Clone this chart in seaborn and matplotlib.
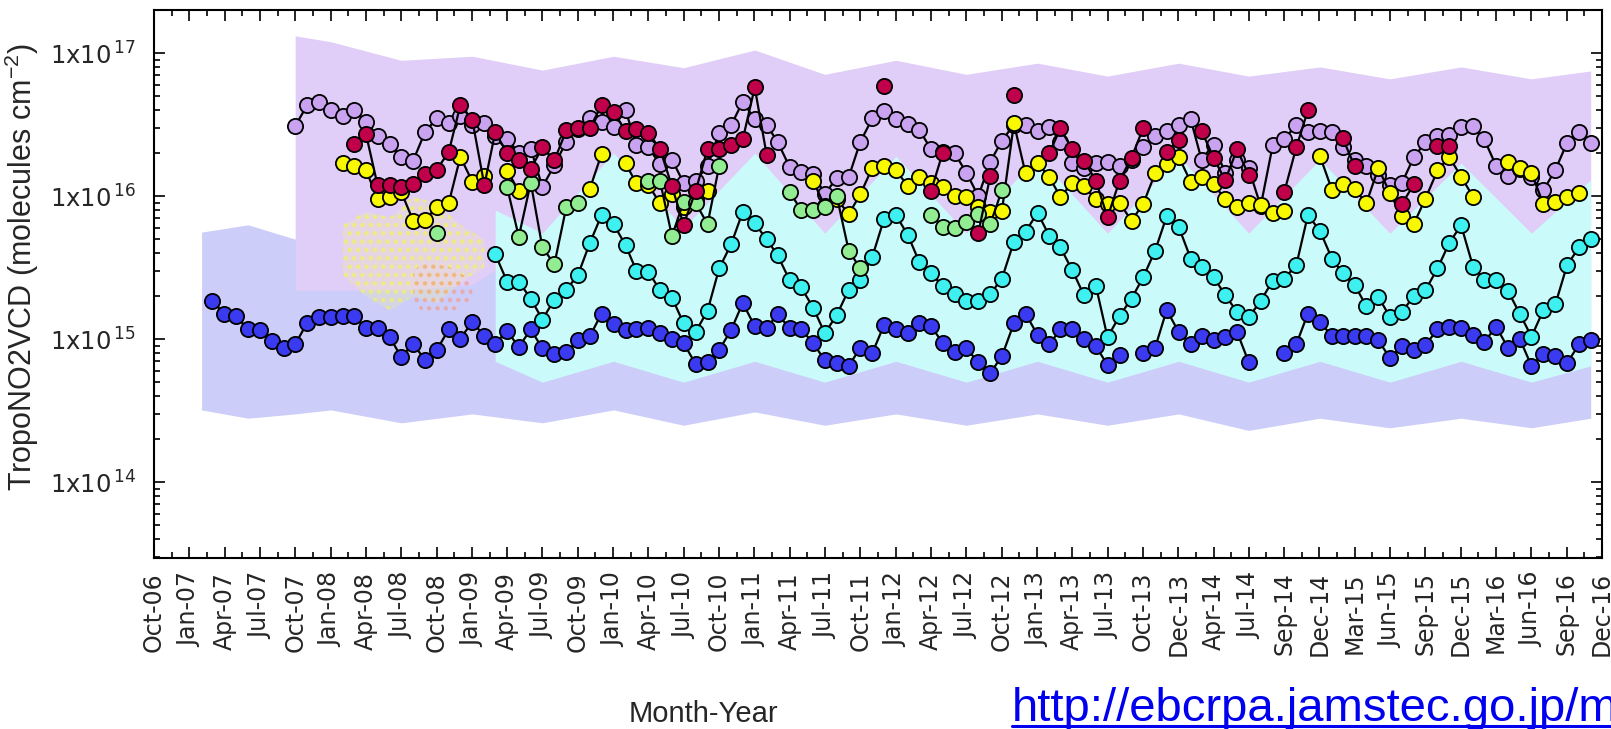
import numpy as np
import pandas as pd
import matplotlib
matplotlib.use("Agg")
import matplotlib.pyplot as plt
import matplotlib.dates as mdates
from matplotlib.lines import Line2D
from matplotlib.ticker import LogLocator, NullFormatter
import seaborn as sns

sns.set_style("ticks")
plt.rcParams["font.family"] = ["DejaVu Sans"]
plt.rcParams["mathtext.default"] = "regular"
plt.rcParams["hatch.linewidth"] = 2.0

# ---------------------------------------------------------------------------
# Data: monthly mean tropospheric NO2 VCD, units of 1e15 molecules cm^-2.
# Each series starts at month index *_FROM (0 = Oct 2006); None = no data.
# ---------------------------------------------------------------------------
FIRST_MONTH = "2006-10-01"
N_MONTHS = 123

X_TICK_LABELS = [
    "Oct-06", "Jan-07", "Apr-07", "Jul-07", "Oct-07", "Jan-08", "Apr-08",
    "Jul-08", "Oct-08", "Jan-09", "Apr-09", "Jul-09", "Oct-09", "Jan-10",
    "Apr-10", "Jul-10", "Oct-10", "Jan-11", "Apr-11", "Jul-11", "Oct-11",
    "Jan-12", "Apr-12", "Jul-12", "Oct-12", "Jan-13", "Apr-13", "Jul-13",
    "Oct-13", "Dec-13", "Apr-14", "Jul-14", "Sep-14", "Dec-14", "Mar-15",
    "Jun-15", "Sep-15", "Dec-15", "Mar-16", "Jun-16", "Sep-16", "Dec-16",
]
Y_TICKS = [1e14, 1e15, 1e16, 1e17]
Y_TICK_LABELS = [r"1x10$^{\,14}$", r"1x10$^{\,15}$", r"1x10$^{\,16}$", r"1x10$^{\,17}$"]

BLUE_FROM = 5
BLUE = [1.85, 1.50, 1.45, 1.17, 1.16, 0.97, 0.87, 0.92, 1.30, 1.43,
        1.43, 1.45, 1.45, 1.19, 1.19, 1.04, 0.75, 0.93, 0.71, 0.84,
        1.17, 1.01, 1.32, 1.05, 0.93, 1.14, 0.88, 1.17, 0.86, 0.79,
        0.81, 0.98, 1.05, 1.51, 1.27, 1.16, 1.17, 1.19, 1.10, 1.00,
        0.94, 0.67, 0.69, 0.84, 1.16, 1.79, 1.23, 1.19, 1.50, 1.19,
        1.17, 0.94, 0.71, 0.68, 0.65, 0.87, 0.80, 1.25, 1.17, 1.10,
        1.30, 1.23, 0.94, 0.81, 0.86, 0.69, 0.58, 0.76, 1.29, 1.51,
        1.07, 0.92, 1.17, 1.17, 1.01, 0.89, 0.66, 0.77, None, 0.80,
        0.87, 1.60, 1.12, 0.92, 1.05, 0.98, 1.03, 1.12, 0.69, None,
        None, 0.80, 0.92, 1.51, 1.32, 1.05, 1.05, 1.05, 1.05, 0.98,
        0.74, 0.89, 0.84, 0.91, 1.17, 1.21, 1.19, 1.07, 0.96, 1.22,
        0.87, 1.00, 0.65, 0.79, 0.76, 0.68, 0.92, 0.98]

CYAN_FROM = 29
CYAN = [3.93, 2.52, 2.52, 1.92, 1.37, 1.89, 2.22, 2.81, 4.72, 7.36,
        6.37, 4.54, 3.01, 2.96, 2.20, 1.95, 1.29, 1.12, 1.58, 3.12,
        4.61, 7.76, 6.44, 4.98, 3.86, 2.59, 2.30, 1.66, 1.10, 1.47,
        2.22, 2.59, 3.77, 6.87, 7.36, 5.33, 3.48, 2.88, 2.35, 2.08,
        1.85, 1.85, 2.07, 2.65, 4.80, 5.64, 7.64, 5.25, 4.38, 3.03,
        2.03, 2.35, 1.03, 1.45, 1.92, 2.70, 4.15, 7.24, 6.10, 3.66,
        3.21, 2.73, 2.03, 1.55, 1.42, 1.85, 2.56, 2.65, 3.29, 7.36,
        5.73, 3.66, 2.88, 2.39, 1.70, 1.98, 1.43, 1.55, 2.00, 2.20,
        3.12, 4.67, 6.27, 3.21, 2.61, 2.61, 2.18, 1.50, 1.04, 1.60,
        1.76, 3.29, 4.38, 4.98]

GREEN_FROM = 24
GREEN = [5.48, None, None, None, None, None, 11.5, 5.20, 12.4, 4.38,
         3.34, 8.41, 8.89, None, None, None, None, None, 12.8, 12.8,
         5.25, 9.12, 8.97, 6.37, 16.2, None, None, None, None, None,
         10.7, 7.98, 7.98, 8.41, 10.0, 4.15, 3.12, None, None, None,
         None, None, 7.36, 6.10, 5.94, 6.61, 7.48, 6.37, 11.0]

YELLOW_FROM = 16
YELLOW = [17.1, 16.2, 15.3, 9.48, 9.79, 10.7, 6.73, 6.79, 8.41, 8.97,
          18.8, 12.6, 13.8, None, 15.0, 10.9, None, None, None, None,
          None, 11.3, 19.7, None, 16.9, 12.3, 12.0, 8.89, 10.4, 8.41,
          9.33, 10.9, None, None, None, None, None, None, None, None,
          12.8, 8.51, 9.55, 7.48, 10.3, 15.8, 16.2, 15.2, 11.7, 13.5,
          12.4, 11.6, 10.0, 9.79, 8.41, 7.76, 7.89, 32.2, 14.4, 17.1,
          13.5, 9.89, 12.3, 11.7, 9.48, 8.79, 8.97, 6.73, 8.79, 14.4,
          16.7, 18.8, 12.6, 13.5, 12.1, 9.55, 8.36, 9.02, 8.71, 7.59,
          7.89, None, None, 19.1, 11.1, 12.1, 11.2, 8.89, 15.7, 10.5,
          7.21, 6.41, 9.62, 15.1, 18.8, 13.7, 9.89, None, None, 17.2,
          15.7, 14.5, 8.75, 9.08, 9.84, 10.5]

PURPLE_FROM = 12
PURPLE = [30.8, 43.3, 45.7, 39.9, 36.2, 39.9, 33.1, 26.3, 23.3, 18.8,
          17.7, 28.2, 34.9, 32.6, 36.3, 31.6, 32.2, 26.3, 25.1, 20.0,
          21.4, 11.6, 16.4, 24.0, 29.5, 34.9, 33.1, 30.5, 39.8, 22.8,
          21.9, 16.7, 18.0, 12.4, 12.8, 16.2, 27.7, 31.3, 45.7, 34.4,
          31.3, 24.0, 16.0, 14.8, 14.3, 10.4, 13.3, 13.6, 24.0, 34.9,
          39.5, 34.4, 31.8, 29.2, 21.2, 20.4, 19.9, 14.6, 10.0, 17.4,
          24.4, 31.6, 31.3, 28.6, 30.5, 24.0, 17.1, 15.8, 17.1, 17.4,
          16.2, 17.8, 21.9, 26.3, 28.6, 31.3, 34.4, 18.0, 22.9, 14.6,
          17.9, 15.6, 8.51, 22.6, 24.9, 31.6, 27.9, 28.6, 28.2, 21.9,
          17.8, 16.2, 14.1, 12.0, 12.3, 18.8, 23.7, 26.3, 26.9, 30.5,
          30.8, 24.9, 16.2, 13.8, 15.5, 13.5, 11.0, 15.3, 23.6, 28.2,
          23.4]

CRIMSON_FROM = 17
CRIMSON = [23.3, 27.2, 11.9, 11.9, 11.6, 12.2, 14.3, 15.3, 20.4, 43.2,
           33.9, 11.9, 27.9, 20.0, 17.8, 15.5, 21.9, 17.8, 28.8, 29.9,
           29.9, 43.3, 38.9, 28.5, 29.5, 27.7, 21.4, 11.7, 6.31, 10.8,
           21.4, 21.4, 22.9, 24.9, 57.5, 19.3, None, None, None, None,
           None, None, None, None, None, 58.7, None, None, None, 10.9,
           20.1, None, None, 5.55, 13.8, None, 50.8, None, None, 20.1,
           29.7, 21.2, 17.7, 12.8, 7.10, 12.8, 18.6, 29.7, None, 20.4,
           24.5, None, 28.6, 18.6, 12.9, 21.2, 14.0, None, None, 10.7,
           21.9, 39.8, None, None, 25.3, 16.2, None, None, None, 8.79,
           12.1, None, 22.4, 22.4]

# Spread of the individual retrievals behind each series (envelopes, 1e15 units)
LAV_CLOUD_M = [4, 8, 12, 15, 21, 27, 33, 39, 45, 51, 57, 63, 69, 75, 81, 87,
               93, 99, 105, 111, 117, 122]
LAV_CLOUD_HI = [5.6, 6.3, 5.0, 4.0, 4.0, 4.0, 4.0, 4.0, 4.0, 4.0, 4.0, 4.0,
                4.0, 4.0, 4.0, 4.0, 4.0, 4.0, 4.0, 4.0, 4.0, 4.0]
LAV_CLOUD_LO = [0.32, 0.28, 0.30, 0.32, 0.26, 0.30, 0.26, 0.32, 0.25, 0.31,
                0.25, 0.30, 0.25, 0.30, 0.25, 0.30, 0.23, 0.28, 0.24, 0.28,
                0.24, 0.28]

PUR_CLOUD_M = [12, 15, 21, 27, 33, 39, 45, 51, 57, 63, 69, 75, 81, 87, 93,
               99, 105, 111, 117, 122]
PUR_CLOUD_HI = [132, 120, 89, 95, 76, 95, 79, 105, 71, 89, 71, 85, 69, 85,
                69, 80, 66, 80, 66, 75]
PUR_CLOUD_LO = [2.2, 2.2, 2.2, 2.4, 5.0, 6.3, 5.0, 6.3, 5.0, 6.3, 5.0, 6.3,
                5.0, 6.3, 5.0, 6.3, 5.0, 6.3, 5.0, 6.3]

CYAN_CLOUD_M = [29, 33, 39, 45, 51, 57, 63, 69, 75, 81, 87, 93, 99, 105,
                111, 117, 122]
CYAN_CLOUD_HI = [8.0, 5.5, 20, 6.0, 20, 5.5, 19, 5.5, 19, 5.5, 19, 5.5, 18,
                 5.5, 17, 5.5, 13]
CYAN_CLOUD_LO = [0.70, 0.50, 0.70, 0.50, 0.70, 0.50, 0.70, 0.50, 0.70, 0.50,
                 0.70, 0.50, 0.70, 0.50, 0.70, 0.50, 0.65]

YEL_CLOUD_M = [16, 18, 20, 22, 24, 26, 28]
YEL_CLOUD_HI = [6.3, 7.9, 7.1, 10.0, 8.9, 6.3, 5.0]
YEL_CLOUD_LO = [2.8, 2.0, 1.6, 2.0, 1.8, 2.5, 3.2]

SAL_CLOUD_M = [22, 23, 25, 27]
SAL_CLOUD_HI = [3.0, 3.5, 3.2, 2.6]
SAL_CLOUD_LO = [1.8, 1.5, 1.5, 1.9]

SCALE = 1e15
months = pd.date_range(FIRST_MONTH, periods=N_MONTHS, freq="MS")


def monthly(first, values):
    """Monthly values -> frame with a segment id that breaks at missing months."""
    v = pd.Series(values, dtype="float64")
    seg = v.isna().cumsum()
    df = pd.DataFrame({"date": months[first:first + len(v)],
                       "vcd": v.values * SCALE,
                       "seg": seg.values})
    return df.dropna(subset=["vcd"])


def envelope(ax, m, lo, hi, color, z, alpha=1.0, hatch=None):
    if hatch is None:
        ax.fill_between(months[m], np.array(lo) * SCALE, np.array(hi) * SCALE,
                        color=color, lw=0, zorder=z, alpha=alpha)
    else:
        # speckled patch: sparse dots of colour over the existing envelope
        ax.fill_between(months[m], np.array(lo) * SCALE, np.array(hi) * SCALE,
                        facecolor="none", edgecolor=color, hatch=hatch,
                        lw=0, zorder=z, alpha=alpha)


W, H = 1611, 729
fig = plt.figure(figsize=(W / 100, H / 100), dpi=100)
ax_l, ax_r, ax_t, ax_b = 154, 1602, 10, 558
ax = fig.add_axes([ax_l / W, 1 - ax_b / H, (ax_r - ax_l) / W, (ax_b - ax_t) / H])
ax.set_yscale("log")

# retrieval envelopes
envelope(ax, LAV_CLOUD_M, LAV_CLOUD_LO, LAV_CLOUD_HI, "#cdcdf9", 1)
envelope(ax, PUR_CLOUD_M, PUR_CLOUD_LO, PUR_CLOUD_HI, "#e0cdf8", 1.2)
envelope(ax, CYAN_CLOUD_M, CYAN_CLOUD_LO, CYAN_CLOUD_HI, "#cbfafa", 1.4)
envelope(ax, YEL_CLOUD_M, YEL_CLOUD_LO, YEL_CLOUD_HI, "#fbfb8c", 1.6, 0.2)
envelope(ax, YEL_CLOUD_M, YEL_CLOUD_LO, YEL_CLOUD_HI, "#f4f45a", 1.65, 0.65, "..")
envelope(ax, SAL_CLOUD_M, SAL_CLOUD_LO, SAL_CLOUD_HI, "#f39a86", 1.7, 0.6, "..")

series = [
    (BLUE_FROM, BLUE, "#3a3af0"),
    (CYAN_FROM, CYAN, "#3ff0f0"),
    (PURPLE_FROM, PURPLE, "#c9a2f0"),
    (YELLOW_FROM, YELLOW, "#f8f800"),
    (GREEN_FROM, GREEN, "#92ec92"),
    (CRIMSON_FROM, CRIMSON, "#c0004b"),
]

z = 5
for first, values, face in series:
    df = monthly(first, values)
    sns.lineplot(data=df, x="date", y="vcd", units="seg", estimator=None,
                 color="black", lw=1.6, ax=ax, zorder=z, legend=False)
    sns.scatterplot(data=df, x="date", y="vcd", color=face, edgecolor="black",
                    linewidth=1.3, s=120, ax=ax, zorder=z + 0.5, legend=False)
    z += 1

# axes: quarterly ticks (91.3 d) from Oct 2006, log y
t0 = months[0]
major = mdates.date2num([t0 + pd.Timedelta(days=91.3 * k)
                         for k in range(len(X_TICK_LABELS))])
minor = (major[:-1] + major[1:]) / 2
ax.set_xlim(major[0], major[-1])
ax.set_xticks(major, labels=X_TICK_LABELS)
ax.set_xticks(minor, minor=True)
ax.set_ylim(2.95e13, 2.0e17)
ax.set_yticks(Y_TICKS, labels=Y_TICK_LABELS)
ax.yaxis.set_minor_locator(LogLocator(base=10, subs=np.arange(2, 10)))
ax.yaxis.set_minor_formatter(NullFormatter())

ax.tick_params(axis="both", which="both", direction="in", top=True,
               right=True, color="black", width=1.2)
ax.tick_params(which="major", length=8)
ax.tick_params(which="minor", length=4)
ax.tick_params(axis="x", which="major", labelsize=17, pad=10, labelrotation=90)
ax.tick_params(axis="y", which="major", labelsize=17.5, pad=13)
for sp in ax.spines.values():
    sp.set_linewidth(1.5)
    sp.set_color("black")
    sp.set_zorder(20)

ax.set_xlabel("Month-Year", family=["Liberation Sans Narrow", "Liberation Sans"],
              fontsize=21)
ax.xaxis.set_label_coords((703 - ax_l) / (ax_r - ax_l), -(700 - ax_b) / (ax_b - ax_t))
ax.set_ylabel("TropoNO2VCD (molecules cm$^{-2}$)", family="Liberation Sans",
              fontsize=22)
ax.yaxis.set_label_coords(-(ax_l - 41) / (ax_r - ax_l), 0.53)

# source link, underlined
url_x, url_base = 1012, 721
fig.text(url_x / W, 1 - url_base / H, "http://ebcrpa.jamstec.go.jp/m",
         family="Liberation Sans", fontsize=34, color="#0000ee",
         ha="left", va="baseline")
fig.add_artist(Line2D([url_x / W, 1.0], [1 - (url_base + 5) / H] * 2,
                      color="#0000ee", lw=2.2))

fig.savefig("out.png", dpi=100)
